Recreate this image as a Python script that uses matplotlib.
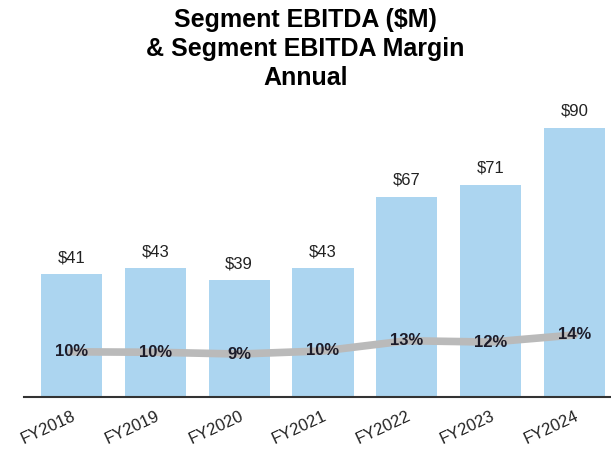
import matplotlib.pyplot as plt

years = ["FY2018", "FY2019", "FY2020", "FY2021", "FY2022", "FY2023", "FY2024"]
ebitda = [41, 43, 39, 43, 67, 71, 90]
margin = [10.2, 10.1, 9.7, 10.4, 12.7, 12.4, 14.0]
margin_labels = ["10%", "10%", "9%", "10%", "13%", "12%", "14%"]

plt.rcParams['font.family'] = ['Liberation Sans', 'DejaVu Sans']

fig = plt.figure(figsize=(6.11, 4.58), dpi=100)
ax = fig.add_axes([0.0393, 0.1332, 0.9607, 0.6528])

x = list(range(len(years)))
ax.bar(x, ebitda, width=0.73, color="#acd5f0", zorder=1)
for xi, v in zip(x, ebitda):
    ax.text(xi, v + 3, f"${v}", ha="center", va="bottom", fontsize=12, color="#222222")

ax.set_xlim(-0.567, 6.436)
ax.set_ylim(0, 100)
ax.set_yticks([])
for s in ["top", "right", "left"]:
    ax.spines[s].set_visible(False)
ax.spines["bottom"].set_color("#333333")
ax.spines["bottom"].set_linewidth(1.5)
ax.set_xticks(x)
ax.set_xticklabels(years, rotation=25, ha="right", rotation_mode="anchor",
                   fontsize=12, color="#222222")
ax.tick_params(axis="x", length=0, pad=8)

ax2 = ax.twinx()
ax2.set_ylim(0, 67.5)
ax2.set_yticks([])
for s in ax2.spines.values():
    s.set_visible(False)
ax2.plot(x, margin, color="#bababa", linewidth=5.5, solid_capstyle="round", zorder=2)
for xi, m, lab in zip(x, margin, margin_labels):
    ax2.text(xi, m, lab, ha="center", va="center", fontsize=12, fontweight="bold",
             color="#1c1c2a", zorder=3)

fig.suptitle("Segment EBITDA ($M)\n& Segment EBITDA Margin\nAnnual", y=0.982,
             fontsize=18, fontweight="bold", linespacing=1.25)

fig.savefig("out.png", dpi=100)
